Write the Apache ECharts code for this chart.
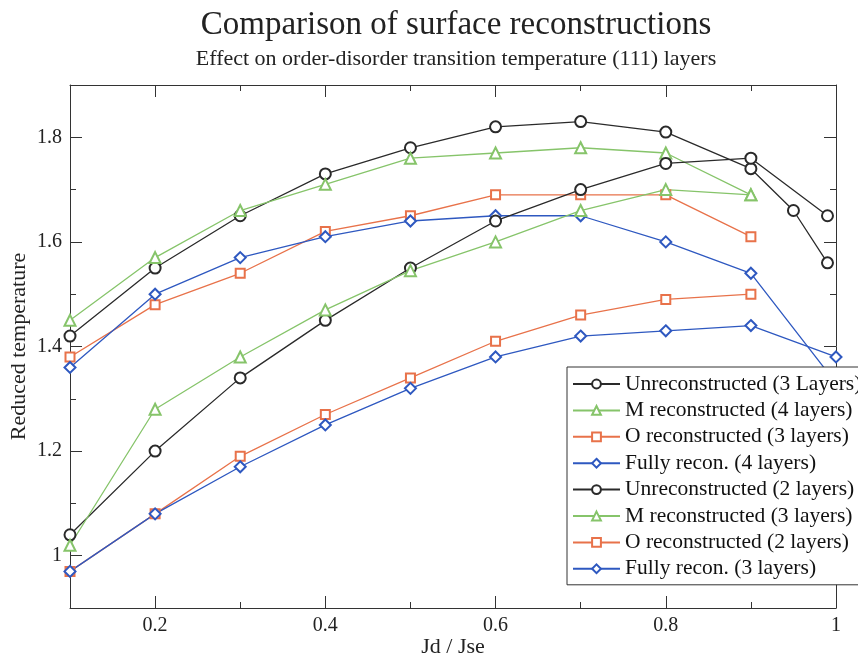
<!DOCTYPE html>
<html>
<head>
<meta charset="utf-8">
<script src="https://cdn.jsdelivr.net/npm/echarts@6/dist/echarts.min.js"></script>
<style>
html,body{margin:0;padding:0;background:#fff;}
#chart{width:858px;height:658px;}
</style>
</head>
<body>
<div id="chart"></div>
<script>
// ---- Data ----
const X9 = [0.1, 0.2, 0.3, 0.4, 0.5, 0.6, 0.7, 0.8, 0.9];

const unrec3X = [0.1, 0.2, 0.3, 0.4, 0.5, 0.6, 0.7, 0.8, 0.9, 0.95, 0.99];
const unrec3Y = [1.42, 1.55, 1.65, 1.73, 1.78, 1.82, 1.83, 1.81, 1.74, 1.66, 1.56];

const m4Y = [1.45, 1.57, 1.66, 1.71, 1.76, 1.77, 1.78, 1.77, 1.69];

const o3Y = [1.38, 1.48, 1.54, 1.62, 1.65, 1.69, 1.69, 1.69, 1.61];

const fully4X = [0.1, 0.2, 0.3, 0.4, 0.5, 0.6, 0.7, 0.8, 0.9, 1.0];
const fully4Y = [1.36, 1.50, 1.57, 1.61, 1.64, 1.65, 1.65, 1.60, 1.54, 1.33];

const unrec2X = [0.1, 0.2, 0.3, 0.4, 0.5, 0.6, 0.7, 0.8, 0.9, 0.99];
const unrec2Y = [1.04, 1.20, 1.34, 1.45, 1.55, 1.64, 1.70, 1.75, 1.76, 1.65];

const m3Y = [1.02, 1.28, 1.38, 1.47, 1.545, 1.60, 1.66, 1.70, 1.69];

const o2Y = [0.97, 1.08, 1.19, 1.27, 1.34, 1.41, 1.46, 1.49, 1.50];

const fully3X = [0.1, 0.2, 0.3, 0.4, 0.5, 0.6, 0.7, 0.8, 0.9, 1.0];
const fully3Y = [0.97, 1.08, 1.17, 1.25, 1.32, 1.38, 1.42, 1.43, 1.44, 1.38];

const seriesNames = [
  'Unreconstructed (3 Layers)',
  'M reconstructed (4 layers)',
  'O reconstructed (3 layers)',
  'Fully recon. (4 layers)',
  'Unreconstructed (2 layers)',
  'M reconstructed (3 layers)',
  'O reconstructed (2 layers)',
  'Fully recon. (3 layers)'
];

const xMajorTicks = [0.2, 0.4, 0.6, 0.8, 1.0];
const xMinorTicks = [0.3, 0.5, 0.7, 0.9];
const yMajorTicks = [1.0, 1.2, 1.4, 1.6, 1.8];
const yMinorTicks = [1.1, 1.3, 1.5, 1.7];

// ---- Styling ----
const FONT = 'Liberation Serif';
const C_BLACK = '#2a2a2a';
const C_GREEN = '#86c46a';
const C_ORANGE = '#e8724a';
const C_BLUE = '#2e58c0';
const AX = '#333';

function zip(xs, ys) { return ys.map((y, i) => [xs[i], y]); }
function fmt(v) {
  const r = Math.round(v * 10) / 10;
  return Math.abs(r - Math.round(r)) < 1e-9 ? String(Math.round(r)) : r.toFixed(1);
}

function mkSeries(name, data, color, symbol, size) {
  return {
    name: name,
    type: 'line',
    data: data,
    symbol: symbol,
    symbolSize: size,
    showAllSymbol: true,
    xAxisIndex: 0,
    yAxisIndex: 0,
    lineStyle: { color: color, width: 1.3 },
    itemStyle: { color: color, borderColor: color, borderWidth: 1.2 },
    emphasis: { disabled: true },
    animation: false,
    z: 2
  };
}

const series = [
  mkSeries(seriesNames[0], zip(unrec3X, unrec3Y), C_BLACK, 'emptyCircle', 11),
  mkSeries(seriesNames[1], zip(X9, m4Y), C_GREEN, 'emptyTriangle', 11),
  mkSeries(seriesNames[2], zip(X9, o3Y), C_ORANGE, 'emptyRect', 9),
  mkSeries(seriesNames[3], zip(fully4X, fully4Y), C_BLUE, 'emptyDiamond', 11),
  mkSeries(seriesNames[4], zip(unrec2X, unrec2Y), C_BLACK, 'emptyCircle', 11),
  mkSeries(seriesNames[5], zip(X9, m3Y), C_GREEN, 'emptyTriangle', 11),
  mkSeries(seriesNames[6], zip(X9, o2Y), C_ORANGE, 'emptyRect', 9),
  mkSeries(seriesNames[7], zip(fully3X, fully3Y), C_BLUE, 'emptyDiamond', 11)
];

function xAx(pos, ticks, len, showLine, withLabels) {
  const a = {
    type: 'value', min: 0.1, max: 1.0, position: pos, gridIndex: 0,
    axisLine: { show: showLine, onZero: false, lineStyle: { color: AX, width: 1 } },
    axisTick: { show: true, inside: true, length: len, customValues: ticks, lineStyle: { color: AX, width: 1 } },
    axisLabel: { show: false },
    splitLine: { show: false }
  };
  if (withLabels) {
    a.axisLabel = { show: true, customValues: xMajorTicks, formatter: fmt, fontFamily: FONT, fontSize: 20, color: '#222', margin: 8 };
    a.name = 'Jd / Jse';
    a.nameLocation = 'middle';
    a.nameGap = 28;
    a.nameMoveOverlap = false;
    a.nameTextStyle = { fontFamily: FONT, fontSize: 22, color: '#222' };
  }
  return a;
}
function yAx(pos, ticks, len, showLine, withLabels) {
  const a = {
    type: 'value', min: 0.9, max: 1.9, position: pos, gridIndex: 0,
    axisLine: { show: showLine, onZero: false, lineStyle: { color: AX, width: 1 } },
    axisTick: { show: true, inside: true, length: len, customValues: ticks, lineStyle: { color: AX, width: 1 } },
    axisLabel: { show: false },
    splitLine: { show: false }
  };
  if (withLabels) {
    a.axisLabel = { show: true, customValues: yMajorTicks, formatter: fmt, fontFamily: FONT, fontSize: 20, color: '#222', margin: 8 };
    a.name = 'Reduced temperature';
    a.nameLocation = 'middle';
    a.nameGap = 40;
    a.nameMoveOverlap = false;
    a.nameTextStyle = { fontFamily: FONT, fontSize: 22, color: '#222' };
  }
  return a;
}

const option = {
  backgroundColor: '#fff',
  animation: false,
  title: {
    text: 'Comparison of surface reconstructions',
    subtext: 'Effect on order-disorder transition temperature (111) layers',
    left: 451,
    textAlign: 'center',
    top: 4,
    itemGap: 6,
    textStyle: { fontFamily: FONT, fontSize: 33, fontWeight: 'normal', color: '#222' },
    subtextStyle: { fontFamily: FONT, fontSize: 22, color: '#222' }
  },
  grid: { left: 70, right: 22, top: 85, bottom: 50, containLabel: false, outerBoundsMode: 'none' },
  xAxis: [
    xAx('bottom', xMajorTicks, 12, true, true),
    xAx('bottom', xMinorTicks, 6, false, false),
    xAx('top', xMajorTicks, 12, true, false),
    xAx('top', xMinorTicks, 6, false, false)
  ],
  yAxis: [
    yAx('left', yMajorTicks, 12, true, true),
    yAx('left', yMinorTicks, 6, false, false),
    yAx('right', yMajorTicks, 12, true, false),
    yAx('right', yMinorTicks, 6, false, false)
  ],
  legend: {
    data: seriesNames,
    orient: 'vertical',
    left: 567,
    top: 367,
    padding: [6, 10, 5, 5],
    itemWidth: 47,
    itemHeight: 11,
    itemGap: 4.4,
    backgroundColor: '#fff',
    borderColor: '#333',
    borderWidth: 1,
    borderRadius: 0,
    selectedMode: false,
    textStyle: { fontFamily: FONT, fontSize: 21.5, color: '#111', lineHeight: 22 },
    z: 10
  },
  series: series
};

const chart = echarts.init(document.getElementById('chart'), null, { renderer: 'canvas' });
chart.setOption(option);
</script>
</body>
</html>
